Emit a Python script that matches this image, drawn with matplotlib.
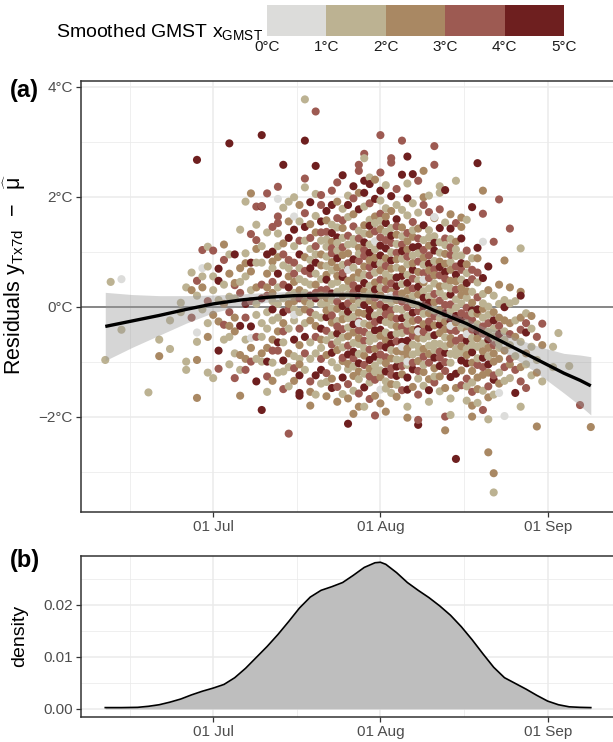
import numpy as np
import matplotlib
matplotlib.use("Agg")
import matplotlib.pyplot as plt
from matplotlib.colors import ListedColormap, BoundaryNorm

plt.rcParams['font.family'] = ['Liberation Sans', 'DejaVu Sans']
plt.rcParams['mathtext.fontset'] = 'custom'
plt.rcParams['mathtext.rm'] = 'Liberation Sans'
plt.rcParams['mathtext.it'] = 'Liberation Sans:italic'
plt.rcParams['mathtext.bf'] = 'Liberation Sans:bold'

# GMST classes (legend) and colours
gmst_edges = [0, 1, 2, 3, 4, 5]
gmst_labels = ["0°C", "1°C", "2°C", "3°C", "4°C", "5°C"]
gmst_colors = ["#DCDCDA", "#BCB292", "#A98863", "#9D5A52", "#6E1F1F"]
class_mid = {"g": 0.5, "b": 1.5, "t": 2.5, "r": 3.5, "d": 4.5}

# residuals (°C) by day after 01 Jul; letter = GMST class g/b/t/r/d
june_pts = {
    -20: "-0.97b", -19: "0.45b", -17: "0.50g -0.42b", -12: "-1.56b",
    -10: "-0.60b -0.90t", -8: "-0.77b -0.25b", -6: "0.07b -0.10b",
    -5: "-1.00b -1.15b 0.35b", -4: "0.62b 0.30t -0.20r",
    -3: "-0.47g -0.64b -0.97t -1.66t 0.47r 2.67d 0.20b",
    -2: "0.55b 0.70g 1.03r -0.05b 0.35t",
    -1: "-0.30b -1.20b 1.09b 0.73b 0.10r -0.55t",
}
july_pts = {
    0: "-1.30b 1.02r 0.55b -0.15t 0.30b",
    1: "-0.27t -0.80d -1.13r 0.69d 0.47d 0.12b",
    2: "-0.33r 1.13t 0.05t -0.60b 0.40b 0.85r",
    3: "-0.55b 0.18b 2.97d -0.10r 0.60t -1.05b 0.95b -0.35t",
    4: "-0.45t 0.39r 0.43t 0.95d -0.85b 0.15b -0.20t -1.30r",
    5: "-0.88t -1.15b -1.62t 0.45b 0.25r 1.40b -0.35d 0.70t",
    6: "-1.15r 1.91b 0.97b 0.79t 0.55b -0.20r -0.60b 0.05d -0.95t",
    7: "-0.57g 2.06t 1.32r 0.80d 0.64t -0.36d -1.00r 0.30b -0.75t 0.10r",
    8: "-1.36d 1.82r 1.21r 1.49b 0.80b 0.35t -0.15b -0.55r 0.05b 1.05t -0.95b",
    9: "-1.88d 3.12d 1.82d 0.80b -0.85t -1.00b 1.83r 0.40r -0.30b 0.15d -0.55b 1.10b",
    10: "-1.27r -1.00d 2.06r 0.60t -0.40b 0.20r 1.35b -0.75t 0.95d -0.10b -1.55b 0.35t",
    11: "-1.02b 0.82t 1.00d 0.45r -0.25b -0.60t 1.45r 0.10b -1.35t 0.70b -0.05d 0.25t -0.80r",
    12: "2.18r 1.96g 1.52r 1.64r 1.33b -0.45t 0.35b -0.80r 0.90t 0.05b -1.20b 0.60d -0.20b -0.65d 1.10b",
    13: "-1.18b -0.98d 2.58d 0.75b -0.30t 1.15t 0.40r -0.65b 0.15b -1.50r 1.80b 0.95r -0.10d -0.45r",
    14: "1.91b -2.31r 1.25d 0.55t -0.40b 0.20b -0.85t 0.85r -1.10b 1.55t -0.05r 0.35d -1.45b 0.70b 0.05t",
    15: "-1.12r 1.64g 1.99b 1.10b 0.45t -0.25b -0.60d 0.80r 0.10t -1.35t 1.40d 0.25b -0.90b 0.60r -0.05b -0.15g",
    16: "-1.57d -0.95b -1.25d -1.62d 1.85t 1.20r 0.70b 0.30t -0.40r 0.95d -0.10b 0.50b 1.55b -0.70t 0.15r -1.05t",
    17: "3.77b 3.02d 2.33r 2.17b -0.85r 1.45d 0.90t 0.45b -0.30b 0.10t 1.20b -0.55d 0.65r -1.15b 0.25b 1.70r -0.05t",
    18: "-1.55t -0.95b -1.36r 1.05b 0.60r 0.20d -0.25t 1.50t 0.85b -0.65b 0.40b 1.25r -0.10r 0.05b -1.80t 0.70d 1.90d",
    19: "3.55r 2.56d 1.35t 0.95b 0.40t -0.15b -0.55r 0.15d 1.65b -0.85b 0.60b -1.25d 1.10r -0.35t 0.80d -1.60b 0.25r 2.05b",
    20: "2.03r -1.15d 1.55d 1.20b 0.75t 0.30r -0.20b -0.60t 0.05b -0.95r 0.50b 1.85r -1.40b 0.95t -0.40d 0.20t 1.35r -0.75b",
    21: "-1.63t 1.74d 1.36r 1.09b 0.58t 0.31r 0.04b -0.19d -0.61b -0.88t -1.21r 0.91b 0.16t 1.22b -0.44r -1.37b 0.49d 0.74b -0.07t 1.57t",
    22: "2.11r 1.85d 1.49b 1.18t 0.97r 0.66b 0.24d -0.03b -0.29t -0.69r -1.01b -1.31t 1.34d 0.81t 0.41b -0.16r -0.52b -1.48d 0.12b -0.84d 1.06r",
    23: "1.91t 1.61r 1.26d 1.02b 0.71t 0.45b 0.09r -0.26b -0.49d -0.79t -1.11b -1.46r 1.44b 0.88d 0.56t 0.27b -0.04t -0.36r -0.64b -1.73t 2.26r 1.16b",
    24: "2.39d 1.78b 1.43t 1.08r 0.76b 0.54d 0.19t -0.14b -0.41r -0.74b -0.99t -1.29d 1.57r 0.94t 0.61r 0.34b 0.01d -0.23t -0.56b -0.93r -1.59b 1.25b",
    25: "1.85d -2.13d -1.67t 1.63b 1.29r 0.97t 0.68d 0.36b 0.06r -0.21b -0.54t -0.87d -1.14b -1.41r 1.13b 0.79r 0.47t 0.22b -0.09d -0.38b -0.71r -1.04t 2.02b 0.67g",
    26: "2.19d -1.95t 1.68t 1.46r 1.14b 0.86d 0.53t 0.26r -0.02b -0.32d -0.66b -0.94r -1.26t -1.53b 1.23b 0.71b 0.39r 0.13t -0.18b -0.47t -0.82d -1.09b 1.97r",
    27: "2.58r 2.47r 2.07t -1.82t 1.77d 1.38b 1.07t 0.83r 0.52b 0.18d -0.11t -0.43r -0.68b -1.03d -1.32b -1.58r 1.24r 0.96b 0.62t 0.33d 0.07b -0.27r -0.57t -0.86b -1.18t -0.30g",
    28: "2.78r 2.70b 2.29d 2.07d -1.82b 1.82b 1.48t 1.17d 0.92r 0.58b 0.28t 0.03d -0.31b -0.62r -0.89t -1.22b -1.47d 1.33b 1.03r 0.73t 0.43d 0.17b -0.13t -0.46r -0.76b -1.06r",
    29: "2.35b 2.23d 1.88r 1.58b 1.32t 0.98d 0.72r 0.38b 0.11t -0.18d -0.51b -0.78r -1.13t -1.38b -1.68r 1.47d 1.13b 0.84t 0.57r 0.24b -0.06d -0.34t -0.63b -0.97d -1.27r",
    30: "-1.98r 1.96d 1.64t 1.37r 1.04b 0.77d 0.44t 0.16r -0.16b -0.43d -0.77t -1.07b -1.33r -1.62t 1.52b 1.19g 0.89t 0.62b 0.31d 0.02t -0.28r -0.58b -0.91d -1.19b 2.31t",
}
aug_pts = {
    31: "3.12r 2.11d 1.93b -1.51g 1.69r 1.41t 1.11d 0.78b 0.49r 0.21t -0.09b -0.42d -0.71r -0.98b -1.28t 1.56b 1.26r 0.93d 0.66t 0.34b 0.04r -0.24d -0.53t -0.87r -1.16b -1.76t 2.44r",
    32: "-1.91t 1.79b 1.52d 1.21r 0.88t 0.59b 0.32r -0.02d -0.28b -0.61t -0.92r -1.18d -1.49b 1.64t 1.36b 1.06d 0.74r 0.46t 0.13b -0.14r -0.47b -0.74d -1.03t -1.36b 2.21b",
    33: "2.70r 2.62r 2.01d 1.74t 1.43b 1.16r 0.84d 0.53b 0.27t -0.07r -0.33b -0.67d -0.94t -1.24r -1.57b 1.29d 0.99b 0.69t 0.42r 0.08b -0.19t -0.52d -0.79b -1.12r -1.41t 0.20g",
    34: "1.85b 1.59d 1.31t 0.98r 0.71b 0.37d 0.12t -0.22r -0.49b -0.81t -1.09d -1.42b 1.46r 1.14b 0.86t 0.53d 0.23r -0.04b -0.36t -0.63r -0.96b -1.26d -1.64t 2.14r",
    35: "3.02r 2.40d 1.76b 1.44t 1.13r 0.87b 0.56d 0.24t -0.06b -0.37r -0.64d -0.97b -1.23t -1.52r 1.28b 1.01d 0.68t 0.41b 0.09r -0.21d -0.48b -0.82t -1.08r -0.73g",
    36: "2.73d 1.97d -2.02t -1.82b -1.51d 1.66b 1.34r 1.04t 0.77b 0.43d 0.14t -0.17b -0.44r -0.76t -1.06b -1.29d 1.19t 0.91r 0.58b 0.29t -0.01r -0.31b -0.62d -0.89t 2.24b -1.00g",
    37: "1.88b 2.41d 1.54r 1.27t 0.93b 0.67d 0.33r 0.06b -0.26t -0.53r -0.87b -1.14d -1.46t 1.39b 1.08d 0.79t 0.51r 0.19b -0.11d -0.42t -0.69b -1.02r",
    38: "2.29r -2.15d -2.06r -1.60r 1.71b 1.42t 1.09d 0.82r 0.48b 0.22t -0.08r -0.41d -0.72b -0.99t -1.31b 1.24r 0.97b 0.63t 0.36d 0.03b -0.24r -0.57t -0.83b -1.17r -0.45g",
    39: "2.47t 1.99t 1.85r 1.48d 1.21b 0.89t 0.61r 0.28b 0.01d -0.32t -0.58b -0.91r -1.19t -1.44b 1.03r 0.76b 0.44t 0.16d -0.13b -0.46r -0.77t -1.06b 0.49g",
    40: "-1.73b 1.72r 1.39b 1.11t 0.78d 0.52r 0.18b -0.12t -0.38d -0.71b -1.02r -1.32t 1.26b 0.93r 0.66t 0.33b 0.07d -0.27r -0.54b -0.86t -1.52d 2.02b",
    41: "2.92r 2.58r 1.61t 1.28b 1.02d 0.68r 0.42b 0.08t -0.18r -0.52d -0.79b -1.12t -1.38r 1.16d 0.83b 0.57t 0.23r -0.06b -0.34t -0.67b -0.93d -1.27b 1.63g",
    42: "2.19b 2.07b 1.77r 1.43d 1.17b 0.82t 0.57r 0.26b -0.07t -0.33d -0.68b -0.93r -1.27t -1.54b 0.98b 0.72d 0.37t 0.11r -0.21b -0.48t -0.82r -1.08d",
    43: "2.12d -2.25t -2.00r -1.48t 1.53b 1.24r 0.96t 0.63d 0.38b 0.03r -0.27t -0.56b -0.84d -1.17r 1.12b 0.78t 0.51r 0.19b -0.12d -0.41t -0.72b -1.01r",
    44: "-1.97b -1.67b 1.68t 1.42d 1.08r 0.81b 0.47t 0.22d -0.08b -0.43r -0.68t -1.02b -1.28d 1.23b 0.94r 0.67t 0.33b 0.04r -0.26d -0.57t -0.86b -0.35g",
    45: "2.29b -2.77d 1.52r 1.18t 0.92b 0.58d 0.31r -0.02b -0.29t -0.62r -0.88b -1.22d -1.48t 1.04b 0.73r 0.46t 0.13b -0.17d -0.44r -0.77b",
    46: "1.62t 1.45t 1.24d 0.93b 0.67r 0.34t 0.06b -0.23d -0.57r -0.83b -1.16t -1.43r 0.79d 0.49b 0.21t -0.12r -0.38b -0.72t -0.98d",
    47: "1.58b 1.02r -1.71b -1.45b 0.77t 0.43d 0.16b -0.17r -0.44t -0.77b -1.03d -1.31r 0.61b 0.28t -0.02r -0.31b -0.62d -0.88t -0.50g",
    48: "1.81d 0.67r 0.50r 0.27b -2.00t -1.80t 0.07t -0.24r -0.57b -0.83d -1.17t -1.38b 0.88b -0.07d -0.42r -0.69b -1.02t -1.55r -0.12b",
    49: "2.61d 1.07d 0.88t 0.44b 0.17r -0.13t -0.47d -0.73b -1.06r -1.29t 0.62r -0.32b -0.58t -0.94b -1.50t -1.75b -0.05d",
    50: "2.11t 1.69r 1.18g 0.52d -1.88r 0.23b -0.04t -0.36r -0.67b -0.93d -1.24t -1.53b 0.06b -0.49r -0.81t -1.10r -0.20b",
    51: "0.73d -2.05b -2.65t 0.30t 0.00b -0.30r -0.60d -0.90b -1.20t -1.45r -0.15b -0.75t -1.05d -0.45b -1.65t",
    52: "1.18r -3.03t -3.38b -1.33d 0.20b -0.10t -0.40b -0.70r -1.00t -0.25d -0.55b -1.60b -0.85t -1.25r",
    53: "1.95r -1.57g 0.40t 0.05b -0.35r -0.65b -0.95t -1.20b -0.20t -0.75b -1.40t -0.50d",
    54: "0.84t 0.12b -0.01d -1.99g -0.45b -0.80t -1.10r -0.60b -0.25t -1.35b",
    55: "1.42r 0.06b -0.30t -0.70b -1.05t -0.50r -0.95r -1.30b 0.35t",
    56: "-1.57d -0.25b -0.55t -0.90b -1.15r 0.10b",
    57: "1.06b 0.27t 0.20d -0.42r -0.64b -1.10t -1.82b -1.36r -0.20t",
    58: "-0.12b -0.47d -1.48r -0.85t -1.05b -0.30r",
    59: "-0.17t -0.73b -0.40b -1.25b",
    60: "-0.97b -2.18t -1.20t -0.55r",
    61: "-0.31r -0.70t -1.36b",
}
sep_pts = {
    63: "-0.73b -1.10b", 64: "-0.48b", 66: "-1.08b", 68: "-1.79r", 70: "-2.19t",
}

# smoothed fit with confidence band
smooth_day = [-20, -15, -10, -5, 0, 5, 10, 15, 20, 25, 30, 35, 38, 41, 44, 47,
              50, 53, 56, 59, 62, 65, 68, 70]
smooth_fit = [-0.36, -0.26, -0.16, -0.05, 0.05, 0.12, 0.17, 0.20, 0.21, 0.21,
              0.19, 0.14, 0.06, -0.07, -0.19, -0.31, -0.46, -0.61, -0.76,
              -0.91, -1.06, -1.21, -1.34, -1.44]
smooth_se = [0.62, 0.48, 0.36, 0.25, 0.16, 0.11, 0.09, 0.08, 0.07, 0.07, 0.07,
             0.07, 0.07, 0.08, 0.08, 0.09, 0.10, 0.17, 0.19, 0.23, 0.29, 0.36,
             0.46, 0.53]

# density of the dates (panel b)
dens_day = [-20, -17, -14, -12, -10, -8, -6, -4, -2, 0, 2, 4, 6, 8, 10, 12, 14,
            16, 18, 20, 22, 24, 26, 28, 30, 31, 32, 34, 36, 38, 40, 42, 44, 46,
            48, 50, 52, 54, 56, 58, 60, 62, 64, 66, 68, 70]
dens_val = [0.00025, 0.00025, 0.0003, 0.0005, 0.0008, 0.0013, 0.0019, 0.0027,
            0.0034, 0.0040, 0.0047, 0.0060, 0.0078, 0.0099, 0.0120, 0.0143,
            0.0168, 0.0194, 0.0215, 0.0228, 0.0235, 0.0243, 0.0257, 0.0272,
            0.0281, 0.0282, 0.0278, 0.0262, 0.0243, 0.0228, 0.0214, 0.0198,
            0.0180, 0.0158, 0.0133, 0.0106, 0.0080, 0.0060, 0.0049, 0.0038,
            0.0026, 0.0015, 0.0008, 0.0004, 0.0003, 0.00025]

date_ticks = [0, 31, 62]
date_labels = ["01 Jul", "01 Aug", "01 Sep"]


def unpack(*blocks):
    xs, ys, cs = [], [], []
    for block in blocks:
        for day, s in block.items():
            for tok in s.split():
                xs.append(day)
                ys.append(float(tok[:-1]))
                cs.append(class_mid[tok[-1]])
    return np.array(xs), np.array(ys), np.array(cs)


def style_axes(ax):
    ax.set_facecolor("white")
    for sp in ax.spines.values():
        sp.set_color("#333333")
        sp.set_linewidth(1.1)
    ax.tick_params(axis="both", which="major", length=3.5, width=0.9,
                   color="#333333", labelsize=11, labelcolor="#4D4D4D", pad=2.5)
    ax.tick_params(axis="both", which="minor", length=0)
    ax.grid(True, which="major", color="#EBEBEB", lw=1.1, zorder=0)
    ax.grid(True, which="minor", color="#EBEBEB", lw=0.55, zorder=0)
    ax.set_axisbelow(True)
    ax.set_xlim(-24.5, 74.3)
    ax.set_xticks(date_ticks)
    ax.set_xticklabels(date_labels)
    ax.set_xticks([-15.5, 15.5, 46.5], minor=True)


x, y, g = unpack(june_pts, july_pts, aug_pts, sep_pts)

cmap = ListedColormap(gmst_colors)
norm = BoundaryNorm(gmst_edges, cmap.N)

fig = plt.figure(figsize=(6.13, 7.42), dpi=100)

# panel (a)
ax = fig.add_axes([81 / 613, 1 - 511.7 / 742, 533 / 613, 431 / 742])
style_axes(ax)
ax.axhline(0, color="#7F7F7F", lw=1.3, zorder=1)
sc = ax.scatter(x, y, c=g, cmap=cmap, norm=norm, s=34, linewidths=0, zorder=2)
sd = np.array(smooth_day)
sf = np.array(smooth_fit)
se = np.array(smooth_se)
ax.fill_between(sd, sf - se, sf + se, color="#999999", alpha=0.4, lw=0, zorder=3)
ax.plot(sd, sf, color="black", lw=2.4, zorder=4, solid_capstyle="butt")
ax.set_ylim(-3.73, 4.11)
ax.set_yticks([-2, 0, 2, 4])
ax.set_yticklabels(["\u22122°C", "0°C", "2°C", "4°C"])
ax.set_yticks([-3, -1, 1, 3], minor=True)
ax.set_ylabel(r"Residuals $\mathrm{y}_{\mathrm{Tx7d}}\;\;-\;\;\widehat{\mathrm{\mu}}$",
              fontsize=15.5)
ax.yaxis.set_label_coords(-0.1, 0.55)

# panel (b)
ax2 = fig.add_axes([81 / 613, 1 - 716.7 / 742, 533 / 613, 160.7 / 742])
style_axes(ax2)
ax2.fill_between(dens_day, 0, dens_val, color="#BEBEBE", lw=0, zorder=2)
ax2.plot(dens_day, dens_val, color="black", lw=1.2, zorder=3)
ax2.set_ylim(-0.0015, 0.0294)
ax2.set_yticks([0, 0.01, 0.02])
ax2.set_yticklabels(["0.00", "0.01", "0.02"])
ax2.set_yticks([0.005, 0.015, 0.025], minor=True)
ax2.set_ylabel("density", fontsize=14)
ax2.yaxis.set_label_coords(-0.1, 0.5)

fig.text(10 / 613, 1 - 90 / 742, "(a)", fontsize=17, fontweight="bold",
         va="center", ha="left")
fig.text(10 / 613, 1 - 561 / 742, "(b)", fontsize=17, fontweight="bold",
         va="center", ha="left")

# colour legend at the top
cax = fig.add_axes([267 / 613, 1 - 36 / 742, 297 / 613, 31 / 742])
cb = fig.colorbar(sc, cax=cax, orientation="horizontal", ticks=gmst_edges)
cb.outline.set_visible(False)
cb.ax.set_xticklabels(gmst_labels)
cb.ax.tick_params(length=0, labelsize=11, labelcolor="#1A1A1A", pad=3)
fig.text(263 / 613, 1 - 37 / 742, r"Smoothed GMST $\mathrm{x}_{\mathrm{GMST}}$",
         fontsize=14, ha="right", va="baseline")

fig.savefig("out.png", dpi=100)
